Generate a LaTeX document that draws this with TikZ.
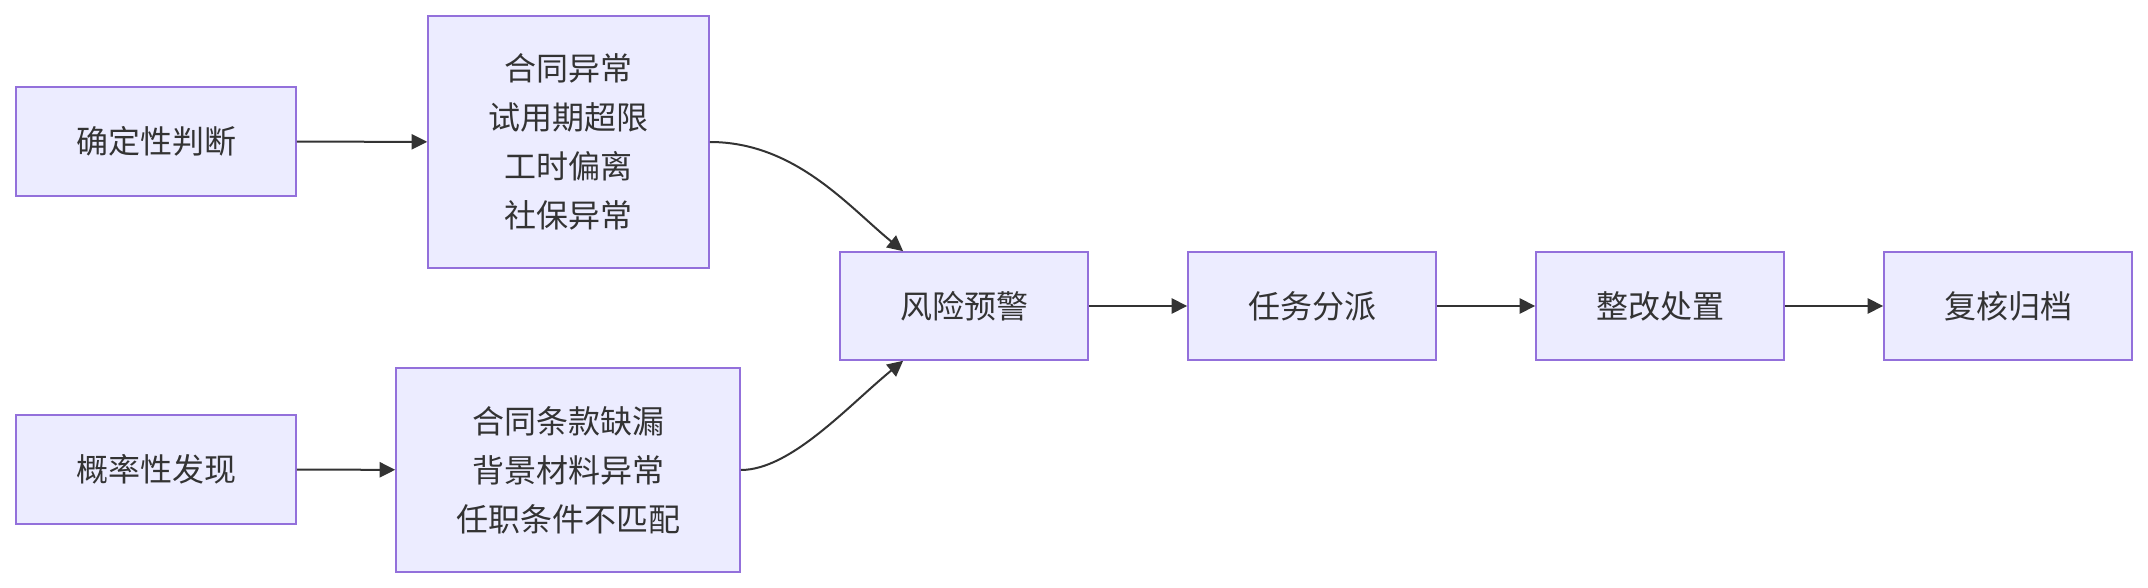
\documentclass[tikz,border=0pt]{standalone}
\usepackage{fontspec}
\setmainfont{Noto Sans CJK SC}
\usepackage{tikz}
\usetikzlibrary{positioning, arrows.meta}

\definecolor{boxfill}{HTML}{ECECFF}
\definecolor{boxline}{HTML}{9370DB}
\definecolor{ink}{HTML}{333333}

\begin{document}
\begin{tikzpicture}[x=0.5pt, y=-0.5pt]
    % Define styles
    \tikzstyle{process} = [rectangle, minimum width=140pt, minimum height=54.5pt, align=center, draw=boxline, line width=0.8pt, fill=boxfill, text=ink, font=\fontsize{16pt}{24.4pt}\selectfont]
    \tikzstyle{arrow} = [draw=ink, line width=1pt, -{Triangle[length=7.8pt, width=7.6pt]}]

    \useasboundingbox (0,0) rectangle (2148,588);

    % Nodes
    \node (sure) [process] at (156,141.5) {确定性判断};
    \node (surelist) [process, minimum width=140.5pt, minimum height=126pt] at (568.5,142) {合同异常\\试用期超限\\工时偏离\\社保异常};
    \node (prob) [process] at (156,469.5) {概率性发现};
    \node (problist) [process, minimum width=172pt, minimum height=102pt] at (568,470) {合同条款缺漏\\背景材料异常\\任职条件不匹配};
    \node (warn) [process, minimum width=124pt, minimum height=54pt] at (964,306) {风险预警};
    \node (assign) [process, minimum width=124pt, minimum height=54pt, right=49.2pt of warn] {任务分派};
    \node (fix) [process, minimum width=124pt, minimum height=54pt, right=49.2pt of assign] {整改处置};
    \node (review) [process, minimum width=124pt, minimum height=54pt, right=49.2pt of fix] {复核归档};

    % Arrows
    \draw [arrow] (sure) -- (surelist);
    \draw [arrow] (prob) -- (problist);
    \draw [arrow] (surelist.east) .. controls +(85,0) and +(-55,-45) .. (warn.138);
    \draw [arrow] (problist.east) .. controls +(50,0) and +(-55,45) .. (warn.222);
    \draw [arrow] (warn) -- (assign);
    \draw [arrow] (assign) -- (fix);
    \draw [arrow] (fix) -- (review);
\end{tikzpicture}
\end{document}
